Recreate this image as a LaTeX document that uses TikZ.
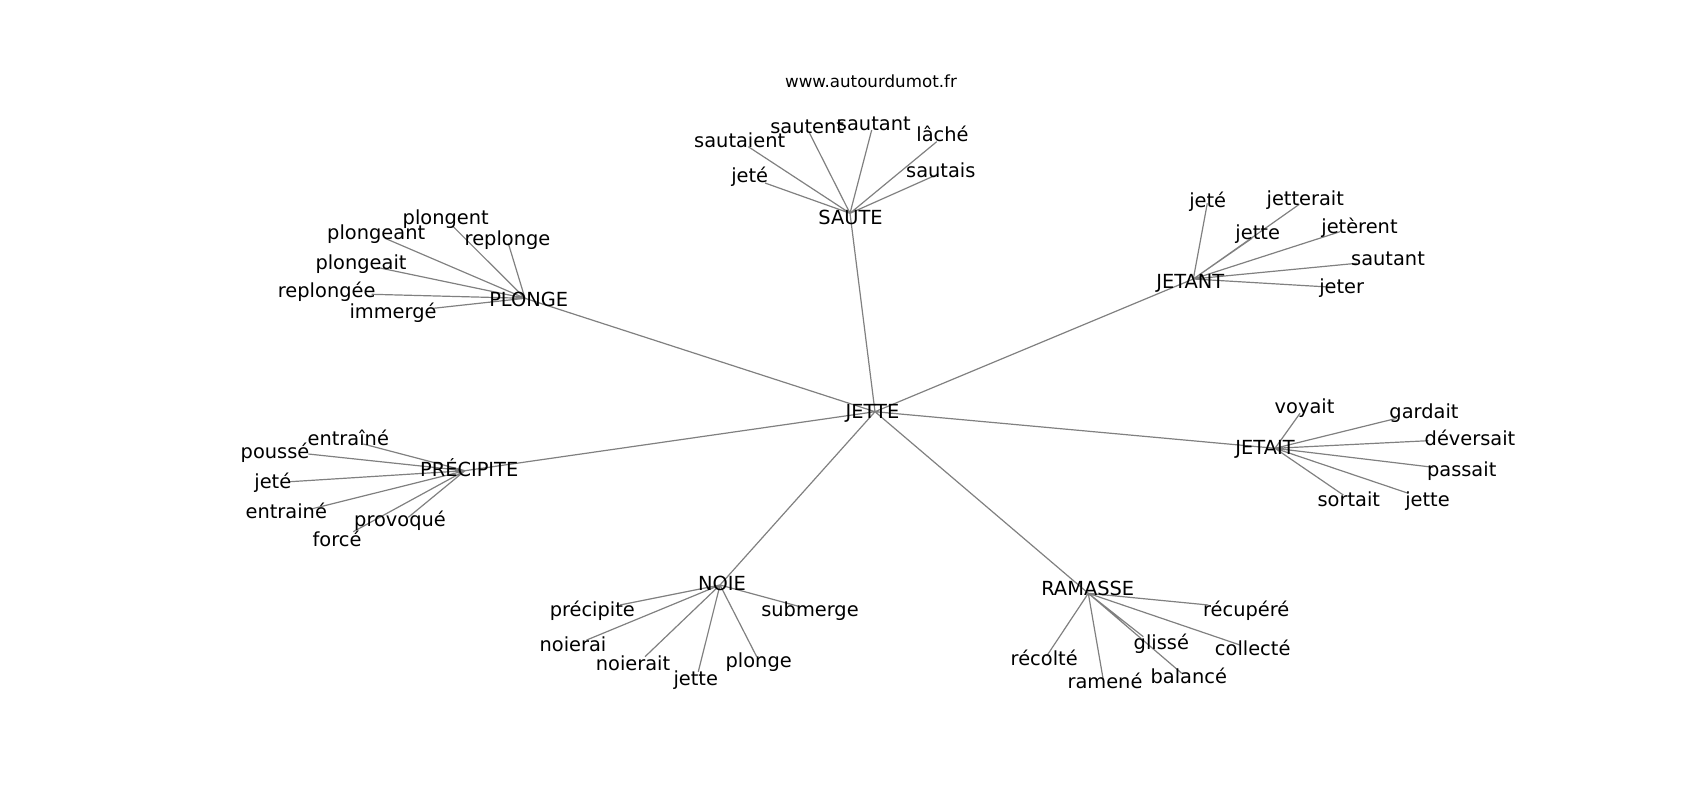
\documentclass[tikz,border=0pt]{standalone}
\usepackage{fontspec}
\setmainfont{DejaVu Sans}
\usepackage{tikz}

\tikzset{
  link/.style={draw=gray, line width=1.2pt},
  word/.style={anchor=base, inner sep=0pt, font=\fontsize{19.4}{23}\selectfont},
  site/.style={anchor=base, inner sep=0pt, font=\fontsize{16.7}{20}\selectfont}
}

\begin{document}
\begin{tikzpicture}[x=1pt,y=-1pt]
	\useasboundingbox (0,0) rectangle (1700,800);
	\node[site] (title) at (871,87.7) {www.autourdumot.fr};

	% hubs
	\coordinate (jette) at (875,411.7);
	\coordinate (saute) at (850,213.3);
	\coordinate (plonge) at (525,298.3);
	\coordinate (jetant) at (1193.3,279);
	\coordinate (jetait) at (1275,448.3);
	\coordinate (precipite) at (465,470.7);
	\coordinate (noie) at (720,585);
	\coordinate (ramasse) at (1088.3,593.3);

	% leaves
	\coordinate (sautaient) at (748.3,146.7);
	\coordinate (jete1) at (765,183);
	\coordinate (sautent) at (809.3,132.7);
	\coordinate (sautant1) at (871.7,130);
	\coordinate (lache) at (936.7,141.7);
	\coordinate (sautais) at (938.3,174);

	\coordinate (plongent) at (453.3,226.7);
	\coordinate (plongeant) at (385,238.3);
	\coordinate (replonge) at (508.3,243.3);
	\coordinate (plongeait) at (376.7,267.3);
	\coordinate (replongee) at (371.7,294.3);
	\coordinate (immerge) at (433.3,308.3);

	\coordinate (jete2) at (1207.3,203.3);
	\coordinate (jetterait) at (1299.3,204.3);
	\coordinate (jette1) at (1252,238.3);
	\coordinate (jeterent) at (1340,231.7);
	\coordinate (sautant2) at (1356.7,263.3);
	\coordinate (jeter) at (1333.3,287.3);

	\coordinate (voyait) at (1300,413.3);
	\coordinate (gardait) at (1396.7,418.3);
	\coordinate (deversait) at (1428.3,440.7);
	\coordinate (passait) at (1433.3,467.3);
	\coordinate (jette2) at (1408.3,493.3);
	\coordinate (sortait) at (1343.3,495);

	\coordinate (entraine1) at (363.3,444);
	\coordinate (pousse) at (308.3,454);
	\coordinate (jete3) at (290,481.7);
	\coordinate (entraine2) at (310,509.3);
	\coordinate (provoque) at (408.3,517.3);
	\coordinate (force) at (353.3,531.7);

	\coordinate (precipite2) at (620,605);
	\coordinate (noierai) at (586.7,640);
	\coordinate (noierait) at (645,656.7);
	\coordinate (jette3) at (698.3,671.7);
	\coordinate (plonge2) at (756.7,656.7);
	\coordinate (submerge) at (800,606.7);

	\coordinate (recupere) at (1208.3,605);
	\coordinate (collecte) at (1240,645);
	\coordinate (glisse) at (1143.3,636.7);
	\coordinate (balance) at (1181.7,673.3);
	\coordinate (ramene) at (1103.3,680);
	\coordinate (recolte) at (1046.7,656);

	% edges
	\draw[link] (jette) -- (saute) (jette) -- (plonge) (jette) -- (jetant) (jette) -- (jetait)
		(jette) -- (precipite) (jette) -- (noie) (jette) -- (ramasse);
	\draw[link] (saute) -- (sautaient) (saute) -- (jete1) (saute) -- (sautent)
		(saute) -- (sautant1) (saute) -- (lache) (saute) -- (sautais);
	\draw[link] (plonge) -- (plongent) (plonge) -- (plongeant) (plonge) -- (replonge)
		(plonge) -- (plongeait) (plonge) -- (replongee) (plonge) -- (immerge);
	\draw[link] (jetant) -- (jete2) (jetant) -- (jetterait) (jetant) -- (jette1)
		(jetant) -- (jeterent) (jetant) -- (sautant2) (jetant) -- (jeter);
	\draw[link] (jetait) -- (voyait) (jetait) -- (gardait) (jetait) -- (deversait)
		(jetait) -- (passait) (jetait) -- (jette2) (jetait) -- (sortait);
	\draw[link] (precipite) -- (entraine1) (precipite) -- (pousse) (precipite) -- (jete3)
		(precipite) -- (entraine2) (precipite) -- (provoque) (precipite) -- (force);
	\draw[link] (noie) -- (precipite2) (noie) -- (noierai) (noie) -- (noierait)
		(noie) -- (jette3) (noie) -- (plonge2) (noie) -- (submerge);
	\draw[link] (ramasse) -- (recupere) (ramasse) -- (collecte) (ramasse) -- (glisse)
		(ramasse) -- (balance) (ramasse) -- (ramene) (ramasse) -- (recolte);

	% labels
	\node[word] (t-jette) at (872.5,418.3) {JETTE};
	\node[word] (t-saute) at (850.5,224) {SAUTE};
	\node[word] (t-plonge) at (528.7,306.7) {PLONGE};
	\node[word] (t-jetant) at (1190.3,288.3) {JETANT};
	\node[word] (t-jetait) at (1265,454) {JETAIT};
	\node[word] (t-precipite) at (469.2,476) {PRÉCIPITE};
	\node[word] (t-noie) at (722,590.7) {NOIE};
	\node[word] (t-ramasse) at (1087.7,595) {RAMASSE};

	\node[word] (t-sautaient) at (739.7,147.3) {sautaient};
	\node[word] (t-jete1) at (749.7,182.3) {jeté};
	\node[word] (t-sautent) at (807.2,133.3) {sautent};
	\node[word] (t-sautant1) at (873.8,130) {sautant};
	\node[word] (t-lache) at (942.5,141.7) {lâché};
	\node[word] (t-sautais) at (940.8,177.3) {sautais};

	\node[word] (t-plongent) at (445.7,224) {plongent};
	\node[word] (t-plongeant) at (376.2,239.3) {plongeant};
	\node[word] (t-replonge) at (507.5,245) {replonge};
	\node[word] (t-plongeait) at (361,269.3) {plongeait};
	\node[word] (t-replongee) at (326.7,297.3) {replongée};
	\node[word] (t-immerge) at (393,318.3) {immergé};

	\node[word] (t-jete2) at (1207.7,207.3) {jeté};
	\node[word] (t-jetterait) at (1305.3,205) {jetterait};
	\node[word] (t-jette1) at (1257.7,239.3) {jette};
	\node[word] (t-jeterent) at (1359.5,233.3) {jetèrent};
	\node[word] (t-sautant2) at (1388,265) {sautant};
	\node[word] (t-jeter) at (1341.7,293.3) {jeter};

	\node[word] (t-voyait) at (1304.5,413.3) {voyait};
	\node[word] (t-gardait) at (1424,418.3) {gardait};
	\node[word] (t-deversait) at (1470,445) {déversait};
	\node[word] (t-passait) at (1461.7,476.7) {passait};
	\node[word] (t-jette2) at (1427.5,506) {jette};
	\node[word] (t-sortait) at (1348.8,506.7) {sortait};

	\node[word] (t-entraine1) at (348.3,445) {entraîné};
	\node[word] (t-pousse) at (275,458.3) {poussé};
	\node[word] (t-jete3) at (272.8,488.3) {jeté};
	\node[word] (t-entraine2) at (286.3,518.3) {entrainé};
	\node[word] (t-provoque) at (400,526.7) {provoqué};
	\node[word] (t-force) at (337,546) {forcé};

	\node[word] (t-precipite2) at (592.3,616.7) {précipite};
	\node[word] (t-noierai) at (573,651.7) {noierai};
	\node[word] (t-noierait) at (633,670) {noierait};
	\node[word] (t-jette3) at (695.8,685) {jette};
	\node[word] (t-plonge2) at (758.7,667.3) {plonge};
	\node[word] (t-submerge) at (810,616) {submerge};

	\node[word] (t-recupere) at (1246.2,616.7) {récupéré};
	\node[word] (t-collecte) at (1252.7,655) {collecté};
	\node[word] (t-glisse) at (1161.3,649) {glissé};
	\node[word] (t-balance) at (1188.8,683.3) {balancé};
	\node[word] (t-ramene) at (1105,688.3) {ramené};
	\node[word] (t-recolte) at (1044.2,665) {récolté};
\end{tikzpicture}
\end{document}
